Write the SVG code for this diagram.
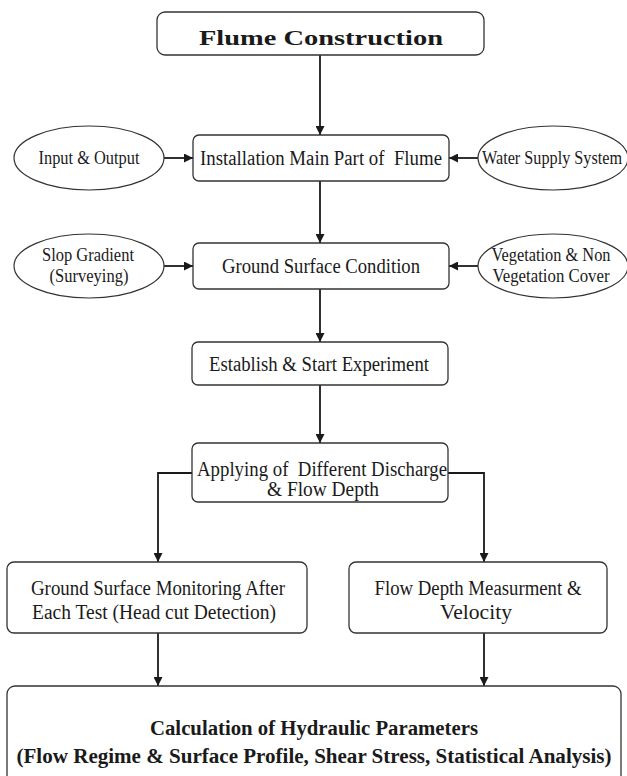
<svg xmlns="http://www.w3.org/2000/svg" width="627" height="776" viewBox="0 0 627 776">
<defs>
<marker id="ah" viewBox="0 0 10 10" refX="10" refY="5" markerWidth="9" markerHeight="9" markerUnits="userSpaceOnUse" orient="auto">
<path d="M0,0 L10,5 L0,10 Z" fill="#1a1a1a"/>
</marker>
<style>
.box{fill:#fff;stroke:#333;stroke-width:1.3}
.ell{fill:#fff;stroke:#333;stroke-width:1.2}
.t{font-family:"Liberation Serif","Times New Roman",serif;font-size:20.5px;fill:#1a1a1a;text-anchor:middle;white-space:pre}
.s{font-size:18.5px}
.b{font-weight:bold}
.c{fill:none;stroke:#1a1a1a;stroke-width:1.8}
</style>
</defs>
<rect width="627" height="776" fill="#fff"/>
<g id="connectors">
<path class="c" d="M320,55 V135" marker-end="url(#ah)"/>
<path class="c" d="M164,158 H193" marker-end="url(#ah)"/>
<path class="c" d="M478,158 H449" marker-end="url(#ah)"/>
<path class="c" d="M320,181 V243" marker-end="url(#ah)"/>
<path class="c" d="M164,266 H193" marker-end="url(#ah)"/>
<path class="c" d="M478,266 H449" marker-end="url(#ah)"/>
<path class="c" d="M320,289 V342" marker-end="url(#ah)"/>
<path class="c" d="M320,385 V443" marker-end="url(#ah)"/>
<path class="c" d="M192,473 H158 V562" marker-end="url(#ah)"/>
<path class="c" d="M448,473 H484 V562" marker-end="url(#ah)"/>
<path class="c" d="M158,633 V686" marker-end="url(#ah)"/>
<path class="c" d="M484,633 V686" marker-end="url(#ah)"/>
</g>
<g id="n-flume">
<rect class="box" x="157" y="12" width="327" height="43" rx="8"/>
<text class="t b" x="321" y="45" font-size="32" textLength="244" lengthAdjust="spacingAndGlyphs">Flume Construction</text>
</g>
<g id="n-install">
<rect class="box" x="193" y="135" width="256" height="46" rx="6"/>
<text class="t" x="321" y="165" textLength="242" lengthAdjust="spacingAndGlyphs">Installation Main Part of  Flume</text>
</g>
<g id="n-io">
<ellipse class="ell" cx="89" cy="158" rx="75" ry="32"/>
<text class="t s" x="89" y="164" textLength="101" lengthAdjust="spacingAndGlyphs">Input &amp; Output</text>
</g>
<g id="n-water">
<ellipse class="ell" cx="553" cy="158" rx="75" ry="32"/>
<text class="t s" x="552" y="164" textLength="140" lengthAdjust="spacingAndGlyphs">Water Supply System</text>
</g>
<g id="n-ground">
<rect class="box" x="193" y="243" width="256" height="46" rx="6"/>
<text class="t" x="321" y="273" textLength="198" lengthAdjust="spacingAndGlyphs">Ground Surface Condition</text>
</g>
<g id="n-slope">
<ellipse class="ell" cx="89" cy="266" rx="75" ry="32"/>
<text class="t s" x="88" y="261" textLength="92" lengthAdjust="spacingAndGlyphs">Slop Gradient</text>
<text class="t s" x="89" y="282" textLength="79" lengthAdjust="spacingAndGlyphs">(Surveying)</text>
</g>
<g id="n-veg">
<ellipse class="ell" cx="553" cy="266" rx="75" ry="32"/>
<text class="t s" x="551" y="261" textLength="119" lengthAdjust="spacingAndGlyphs">Vegetation &amp; Non</text>
<text class="t s" x="551" y="282" textLength="117" lengthAdjust="spacingAndGlyphs">Vegetation Cover</text>
</g>
<g id="n-establish">
<rect class="box" x="192" y="342" width="256" height="43" rx="6"/>
<text class="t" x="319" y="371" textLength="220" lengthAdjust="spacingAndGlyphs">Establish &amp; Start Experiment</text>
</g>
<g id="n-apply">
<rect class="box" x="192" y="443" width="256" height="59" rx="6"/>
<text class="t" x="322" y="476" textLength="250" lengthAdjust="spacingAndGlyphs">Applying of  Different Discharge</text>
<text class="t" x="323" y="496" textLength="112" lengthAdjust="spacingAndGlyphs">&amp; Flow Depth</text>
</g>
<g id="n-monitor">
<rect class="box" x="7" y="562" width="300" height="71" rx="7"/>
<text class="t" x="158" y="595" textLength="254" lengthAdjust="spacingAndGlyphs">Ground Surface Monitoring After</text>
<text class="t" x="154" y="619" textLength="244" lengthAdjust="spacingAndGlyphs">Each Test (Head cut Detection)</text>
</g>
<g id="n-depth">
<rect class="box" x="349" y="562" width="258" height="71" rx="7"/>
<text class="t" x="478" y="595" textLength="207" lengthAdjust="spacingAndGlyphs">Flow Depth Measurment &amp;</text>
<text class="t" x="476" y="619" textLength="72" lengthAdjust="spacingAndGlyphs">Velocity</text>
</g>
<g id="n-calc">
<rect class="box" x="7" y="686" width="614" height="110" rx="8"/>
<text class="t b" x="314" y="735" font-size="24" textLength="328" lengthAdjust="spacingAndGlyphs">Calculation of Hydraulic Parameters</text>
<text class="t b" x="314" y="763" font-size="24" textLength="595" lengthAdjust="spacingAndGlyphs">(Flow Regime &amp; Surface Profile, Shear Stress, Statistical Analysis)</text>
</g>
</svg>
